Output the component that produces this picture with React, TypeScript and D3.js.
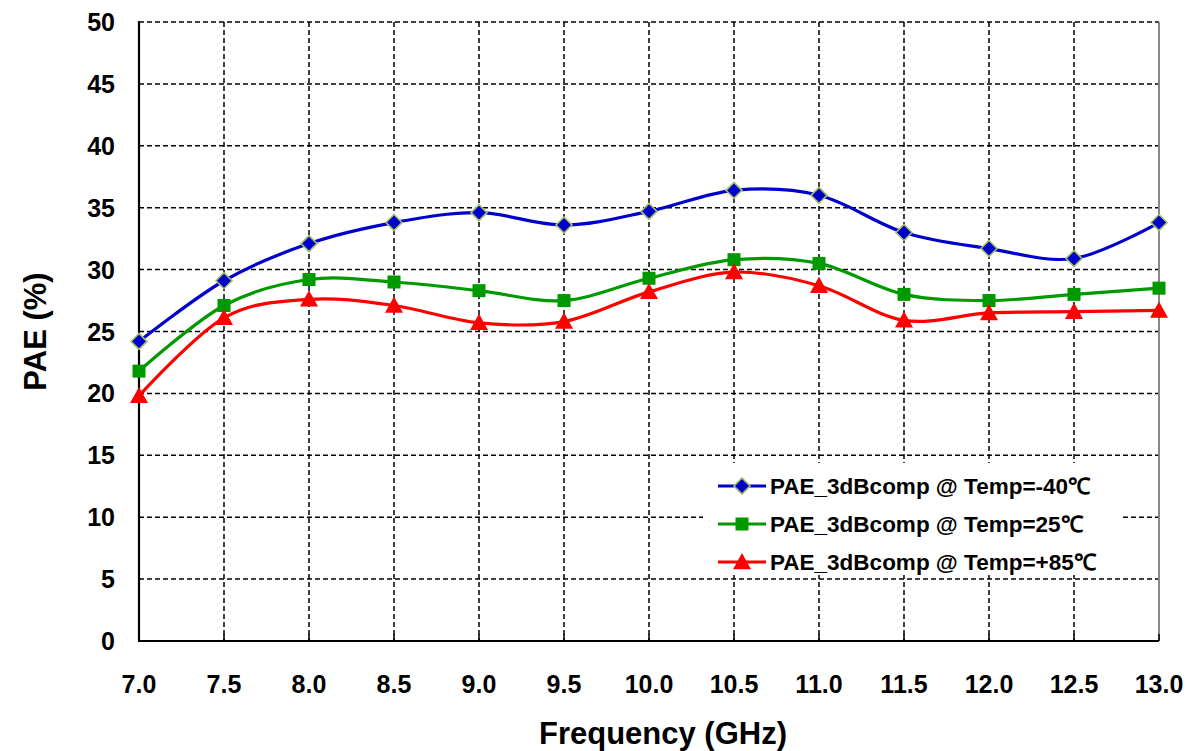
import React from "react";
import * as d3 from "d3";

const freqs = [7.0, 7.5, 8.0, 8.5, 9.0, 9.5, 10.0, 10.5, 11.0, 11.5, 12.0, 12.5, 13.0];
const paeMinus40 = [24.2, 29.1, 32.1, 33.8, 34.6, 33.6, 34.7, 36.4, 36.0, 33.0, 31.7, 30.9, 33.8];
const pae25 = [21.8, 27.1, 29.2, 29.0, 28.3, 27.5, 29.3, 30.8, 30.5, 28.0, 27.5, 28.0, 28.5];
const pae85 = [19.8, 26.1, 27.6, 27.1, 25.7, 25.8, 28.2, 29.8, 28.7, 25.9, 26.5, 26.6, 26.7];
const yTicks = [0, 5, 10, 15, 20, 25, 30, 35, 40, 45, 50];

const seriesList = [
  { name: "PAE_3dBcomp @ Temp=-40℃", values: paeMinus40, color: "#0000CC", marker: "diamond" },
  { name: "PAE_3dBcomp @ Temp=25℃", values: pae25, color: "#009900", marker: "square" },
  { name: "PAE_3dBcomp @ Temp=+85℃", values: pae85, color: "#FF0000", marker: "triangle" },
];

const W = 1198;
const H = 751;
const margin = { top: 22, right: 39, bottom: 110, left: 139 };
const font = "'Liberation Sans', Arial, sans-serif";

function Marker({ type, x, y, color }) {
  if (type === "diamond") {
    const s = 8;
    return (
      <path
        d={`M${x},${y - s}L${x + s},${y}L${x},${y + s}L${x - s},${y}Z`}
        fill={color}
        stroke="#A4C064"
        strokeWidth={1.6}
      />
    );
  }
  if (type === "square") {
    const s = 6.5;
    return <rect x={x - s} y={y - s} width={2 * s} height={2 * s} fill={color} />;
  }
  const s = 9;
  return <path d={`M${x},${y - s}L${x + s},${y + s * 0.8}L${x - s},${y + s * 0.8}Z`} fill={color} />;
}

export default function App() {
  const x = d3.scaleLinear().domain([7, 13]).range([margin.left, W - margin.right]);
  const y = d3.scaleLinear().domain([0, 50]).range([H - margin.bottom, margin.top]);
  const line = d3
    .line<number>()
    .x((_, i) => x(freqs[i]))
    .y((d) => y(d))
    .curve(d3.curveCatmullRom.alpha(0));

  const x0 = x(7);
  const x1 = x(13);
  const y0 = y(0);
  const y1 = y(50);

  const legX = 703;
  const legY = 463;

  return (
    <svg width={W} height={H} style={{ position: "absolute", left: 0, top: 0, background: "#fff" }}>
      {/* grid */}
      {yTicks.slice(1).map((t) => (
        <line key={"gy" + t} x1={x0} x2={x1} y1={y(t)} y2={y(t)} stroke="#000" strokeWidth={1.5} strokeDasharray="5,3" />
      ))}
      {freqs.slice(1, -1).map((f) => (
        <line key={"gx" + f} x1={x(f)} x2={x(f)} y1={y1} y2={y0} stroke="#000" strokeWidth={1.5} strokeDasharray="5,3" />
      ))}
      <line x1={x1} x2={x1} y1={y1} y2={y0} stroke="#888" strokeWidth={2} />

      {/* legend background covers grid */}
      <rect x={legX} y={legY} width={417} height={112} fill="#fff" />

      {/* axes */}
      <line x1={x0} x2={x0} y1={y1 - 1} y2={y0 + 1} stroke="#000" strokeWidth={2.2} />
      <line x1={x0 - 1} x2={x1} y1={y0} y2={y0} stroke="#000" strokeWidth={2.2} />
      {freqs.slice(1).map((f) => (
        <line key={"tx" + f} x1={x(f)} x2={x(f)} y1={y0} y2={y0 - 7} stroke="#000" strokeWidth={1.5} />
      ))}

      {/* series */}
      {seriesList.map((s) => (
        <g key={s.name}>
          <path d={line(s.values) || ""} fill="none" stroke={s.color} strokeWidth={3.2} />
          {s.values.map((v, i) => (
            <Marker key={i} type={s.marker} x={x(freqs[i])} y={y(v)} color={s.color} />
          ))}
        </g>
      ))}

      {/* tick labels */}
      {yTicks.map((t) => (
        <text
          key={"ly" + t}
          x={115}
          y={y(t)}
          textAnchor="end"
          dominantBaseline="central"
          fontFamily={font}
          fontWeight="bold"
          fontSize={25}
        >
          {t}
        </text>
      ))}
      {freqs.map((f) => (
        <text
          key={"lx" + f}
          x={x(f)}
          y={693}
          textAnchor="middle"
          fontFamily={font}
          fontWeight="bold"
          fontSize={25}
        >
          {f.toFixed(1)}
        </text>
      ))}

      {/* axis titles */}
      <text
        transform={`translate(46,${(y0 + y1) / 2}) rotate(-90)`}
        textAnchor="middle"
        fontFamily={font}
        fontWeight="bold"
        fontSize={31}
      >
        PAE (%)
      </text>
      <text x={663} y={744} textAnchor="middle" fontFamily={font} fontWeight="bold" fontSize={31}>
        Frequency (GHz)
      </text>

      {/* legend */}
      {seriesList.map((s, i) => {
        const ly = 486 + i * 38;
        return (
          <g key={"leg" + i}>
            <line x1={718} x2={766} y1={ly} y2={ly} stroke={s.color} strokeWidth={3.2} />
            <Marker type={s.marker} x={742} y={ly} color={s.color} />
            <text x={770} y={ly} dominantBaseline="central" fontFamily={font} fontWeight="bold" fontSize={22.5}>
              {s.name}
            </text>
          </g>
        );
      })}
    </svg>
  );
}
